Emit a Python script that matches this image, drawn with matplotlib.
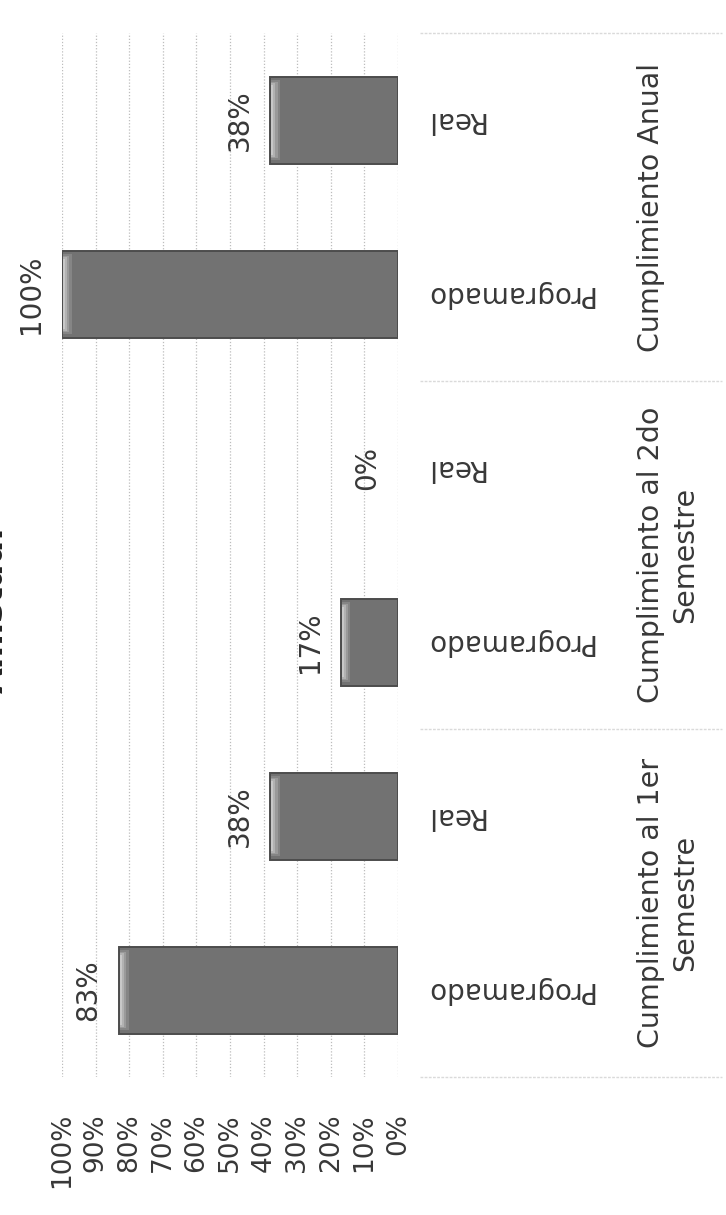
import matplotlib
matplotlib.use("Agg")
import matplotlib.pyplot as plt
import matplotlib.transforms as mtransforms
import numpy as np

# data (the scanned chart is rotated 90 degrees, so it is drawn that way)
groups = ["Cumplimiento al 1er\nSemestre", "Cumplimiento al 2do\nSemestre", "Cumplimiento Anual"]
series = ["Programado", "Real"]
programado = [83, 17, 100]
real = [38, 0, 38]
ticks = list(range(0, 101, 10))
title = "Amistad."

plt.rcParams["font.family"] = "DejaVu Sans"
TXT = "#383838"
W, H = 726, 1215

fig = plt.figure(figsize=(W / 100, H / 100), dpi=100)
ax = fig.add_axes([62 / W, 1 - 1077 / H, 336 / W, 1044 / H])

vals = np.array([programado, real]).T.ravel()
labels = [s for g in groups for s in series]
ypos = np.arange(len(vals))

edges = ["#4c4c4c" if v > 0 else "none" for v in vals]
ax.barh(ypos, vals, height=0.5, color="#727272", edgecolor=edges,
        linewidth=1.4, zorder=3)

# bevel highlight at the end of each bar
for v, y in zip(vals, ypos):
    if v < 3:
        continue
    for c, w, h in zip(["#858585", "#9a9a9a", "#b2b2b2", "#c8c8c8"],
                       [2.6, 1.9, 1.2, 0.6], [0.46, 0.44, 0.42, 0.40]):
        ax.barh(y, w, left=v - w - 0.25, height=h, color=c,
                linewidth=0, zorder=4)

ax.set_xlim(100, 0)
ax.set_ylim(-0.5, 5.5)
ax.set_xticks(ticks)
ax.set_xticklabels([f"{t}%" for t in ticks])
ax.set_yticks([])
ax.tick_params(axis="x", length=0, pad=26, labelsize=19, labelcolor=TXT,
               labelrotation=90)
ax.xaxis.grid(True, color="#bdbdbd", linestyle=(0, (1, 1.5)), linewidth=0.9)
ax.set_axisbelow(True)
for s in ax.spines.values():
    s.set_visible(False)

# value labels
for v, y in zip(vals, ypos):
    ax.annotate(f"{v}%", (v, y), xytext=(-12, 0), textcoords="offset points",
                rotation=90, ha="right", va="center", fontsize=20, color=TXT,
                annotation_clip=False)

# inner category labels (upside down in the scan)
for lab, y in zip(labels, ypos):
    ax.annotate(lab, (0, y), xytext=(19, 0), textcoords="offset points",
                rotation=180, ha="left", va="center", fontsize=20, color=TXT,
                annotation_clip=False)

# group labels and separators
trans = mtransforms.blended_transform_factory(ax.transAxes, ax.transData)
for g, name in enumerate(groups):
    ax.text((637 - 62) / 336, 2 * g + 0.5, name, transform=trans, rotation=90,
            ha="left", va="center", multialignment="center", fontsize=20.5,
            color=TXT, clip_on=False, linespacing=1.3)
for b in [-0.5, 1.5, 3.5, 5.5]:
    ax.plot([(420 - 62) / 336, (722 - 62) / 336], [b, b], transform=trans,
            color="#dadada", lw=1, ls=(0, (2, 1)), clip_on=False)

# title, mostly cut off at the left edge of the scan
fig.text(10 / W, 1 - 610 / H, title, rotation=90, ha="right", va="center",
         fontsize=24, fontweight="bold", color="#222222")

fig.savefig("out.png", dpi=100)
